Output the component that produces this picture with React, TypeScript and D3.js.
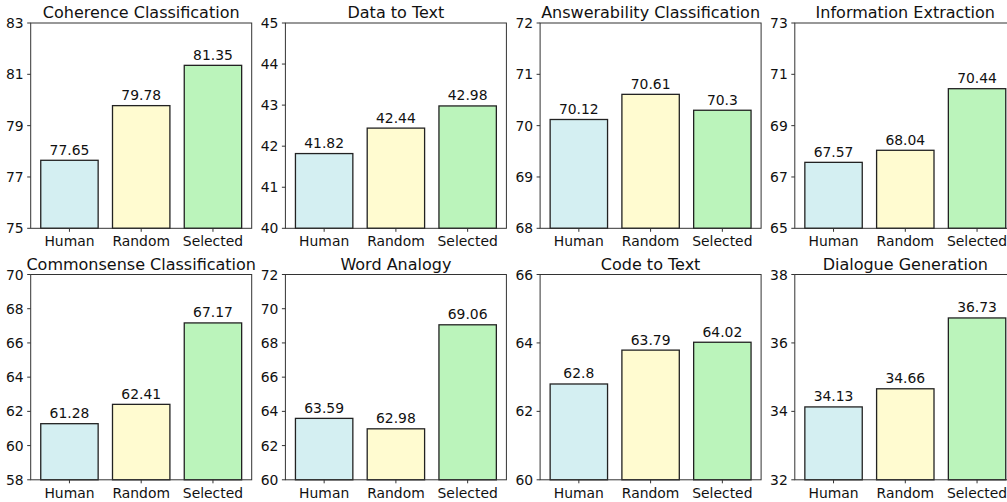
import React from "react";
import * as d3 from "d3";

const categories = ["Human", "Random", "Selected"];
const titles = [
  "Coherence Classification",
  "Data to Text",
  "Answerability Classification",
  "Information Extraction",
  "Commonsense Classification",
  "Word Analogy",
  "Code to Text",
  "Dialogue Generation",
];
const values = [
  [77.65, 79.78, 81.35],
  [41.82, 42.44, 42.98],
  [70.12, 70.61, 70.3],
  [67.57, 68.04, 70.44],
  [61.28, 62.41, 67.17],
  [63.59, 62.98, 69.06],
  [62.8, 63.79, 64.02],
  [34.13, 34.66, 36.73],
];
const yDomains = [
  [75, 83], [40, 45], [68, 72], [65, 73],
  [58, 70], [60, 72], [60, 66], [32, 38],
];
const yTicks = [
  [75, 77, 79, 81, 83],
  [40, 41, 42, 43, 44, 45],
  [68, 69, 70, 71, 72],
  [65, 67, 69, 71, 73],
  [58, 60, 62, 64, 66, 68, 70],
  [60, 62, 64, 66, 68, 70, 72],
  [60, 62, 64, 66],
  [32, 34, 36, 38],
];
const colors = ["#d4eff2", "#fffbd0", "#bbf4bb"];

const W = 1007, H = 502;
const panelW = 221, panelH = 205.3;
const lefts = [30.7, 285.4, 540.1, 794.8];
const tops = [23, 274.5];
const font = "DejaVu Sans, sans-serif";
const fs = 13.9;

function Panel({ idx }: { idx: number }) {
  const x0 = lefts[idx % 4];
  const y0 = tops[Math.floor(idx / 4)];
  const x = d3.scaleLinear().domain([-0.54, 2.54]).range([0, panelW]);
  const y = d3.scaleLinear().domain(yDomains[idx]).range([panelH, 0]);
  const bw = x(0.8) - x(0);
  return (
    <g transform={`translate(${x0},${y0})`}>
      {values[idx].map((v, i) => (
        <g key={i}>
          <rect
            x={x(i - 0.4)}
            y={y(v)}
            width={bw}
            height={panelH - y(v)}
            fill={colors[i]}
            stroke="#222"
            strokeWidth={1.3}
          />
          <text
            x={x(i)}
            y={y(v) - 5.5}
            textAnchor="middle"
            fontSize={fs}
            fontFamily={font}
            fill="#111"
          >
            {String(v)}
          </text>
        </g>
      ))}
      <rect x={0} y={0} width={panelW} height={panelH} fill="none" stroke="#333" strokeWidth={1} />
      {yTicks[idx].map((t) => (
        <g key={t} transform={`translate(0,${y(t)})`}>
          <line x1={-3.5} x2={0} stroke="#333" />
          <text x={-7} dy="0.36em" textAnchor="end" fontSize={fs} fontFamily={font} fill="#111">
            {t}
          </text>
        </g>
      ))}
      {categories.map((c, i) => (
        <g key={c} transform={`translate(${x(i)},${panelH})`}>
          <line y1={0} y2={3.5} stroke="#333" />
          <text y={18} textAnchor="middle" fontSize={fs} fontFamily={font} fill="#111">
            {c}
          </text>
        </g>
      ))}
      <text x={panelW / 2} y={-5} textAnchor="middle" fontSize={16} fontFamily={font} fill="#111">
        {titles[idx]}
      </text>
    </g>
  );
}

export default function App() {
  return (
    <div style={{ position: "absolute", left: 0, top: 0 }}>
      <svg width={W} height={H} style={{ display: "block", background: "#fff" }}>
        {titles.map((_, i) => (
          <Panel key={i} idx={i} />
        ))}
      </svg>
    </div>
  );
}
